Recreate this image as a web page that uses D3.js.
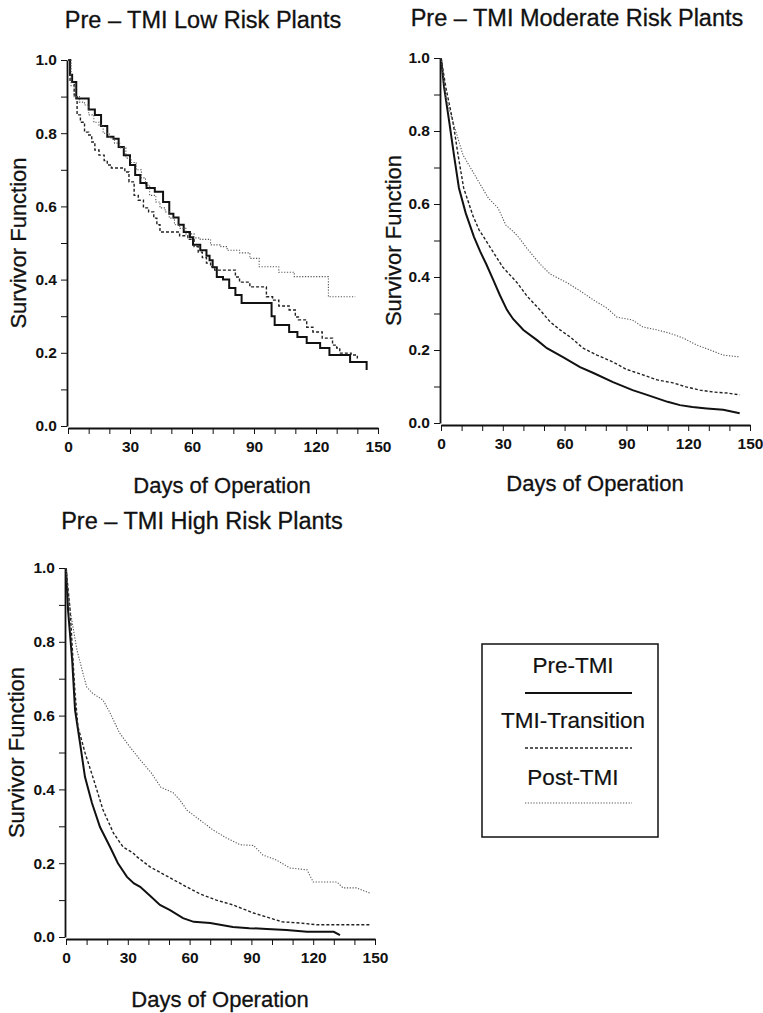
<!DOCTYPE html>
<html><head><meta charset="utf-8">
<script src="https://cdn.jsdelivr.net/npm/d3@7"></script>
<style>
body{margin:0;background:#fff;}
svg{display:block;}
text{font-family:"Liberation Sans",Arial,Helvetica,sans-serif;fill:#111;}
</style></head>
<body>
<svg id="c" width="763" height="1013"></svg>
<script>
// ---- data ----
const seriesNames = ["Pre-TMI", "TMI-Transition", "Post-TMI"];
const panelTitles = ["Pre \u2013 TMI Low Risk Plants", "Pre \u2013 TMI Moderate Risk Plants", "Pre \u2013 TMI High Risk Plants"];
const xTickLabels = [0, 30, 60, 90, 120, 150];
const yTickLabels = [0.0, 0.2, 0.4, 0.6, 0.8, 1.0];

// Low risk [day, survivor]
const lowPre = [[0,1],[1,0.96],[2,0.94],[4,0.895],[10,0.865],[13,0.85],[16,0.82],[19,0.79],[22,0.785],[24.5,0.762],[27,0.74],[30,0.713],[32.5,0.686],[35,0.664],[38,0.65],[42,0.64],[46,0.612],[49,0.58],[51,0.57],[53.5,0.55],[56,0.53],[59,0.516],[60.5,0.495],[64,0.48],[67,0.465],[68.5,0.453],[70,0.434],[72,0.407],[75,0.4],[78,0.377],[81,0.358],[84,0.336],[98.5,0.30],[100,0.276],[107,0.257],[111,0.243],[115.5,0.227],[122,0.213],[126.5,0.194],[136.5,0.175],[144.5,0.153]];
const lowTrans = [[0,1],[1,0.94],[3,0.904],[4.4,0.85],[6,0.83],[8,0.803],[10,0.795],[11.5,0.776],[13,0.754],[15,0.74],[17.5,0.725],[19,0.713],[21,0.705],[27.5,0.694],[29.5,0.667],[32,0.63],[34,0.617],[36.5,0.596],[39,0.585],[41.5,0.568],[43,0.55],[44.5,0.53],[54,0.52],[58,0.51],[61,0.49],[63,0.475],[65,0.46],[67,0.445],[69,0.435],[71,0.426],[81,0.407],[83,0.393],[88,0.38],[96,0.353],[99,0.344],[102,0.328],[107,0.317],[110,0.298],[111.5,0.29],[115.5,0.27],[118.5,0.257],[123,0.24],[128,0.221],[130,0.213],[131.5,0.199],[137,0.194],[140,0.186],[140.5,0.186]];
const lowPost = [[0,1],[1.5,0.93],[3,0.9],[5.5,0.885],[8,0.877],[10,0.85],[12.5,0.83],[15,0.822],[17,0.8],[20,0.787],[22.5,0.773],[25,0.76],[28,0.732],[30.5,0.72],[33,0.70],[35.5,0.678],[37.5,0.658],[39.5,0.63],[42.5,0.612],[44.5,0.596],[47,0.585],[49,0.568],[51.5,0.55],[54,0.54],[57,0.525],[61,0.514],[64,0.51],[69,0.495],[74,0.49],[77,0.48],[83,0.473],[88,0.458],[92.5,0.435],[102,0.42],[109.5,0.408],[126,0.353],[139,0.353]];

// Moderate risk
const modPre = [[0,1],[1.5,0.92],[4,0.825],[6.3,0.734],[8.7,0.644],[12,0.575],[16,0.51],[19,0.47],[22,0.435],[25.3,0.393],[28.6,0.35],[32,0.31],[35,0.285],[40,0.255],[46.6,0.227],[51.4,0.205],[59,0.181],[67.5,0.153],[74,0.137],[83.5,0.112],[93,0.09],[100,0.077],[110,0.058],[116,0.049],[122,0.044],[129,0.04],[137,0.036],[145,0.027]];
const modTrans = [[0,1],[2.4,0.918],[5.8,0.825],[8.3,0.734],[11,0.644],[15.5,0.568],[18.4,0.53],[23.8,0.482],[30,0.427],[37,0.384],[41.7,0.348],[48,0.31],[53,0.277],[57.8,0.255],[62.6,0.236],[69,0.205],[75.7,0.186],[83.5,0.167],[90,0.147],[98,0.132],[105,0.118],[112.6,0.11],[119,0.099],[125.7,0.09],[132,0.085],[139,0.082],[145,0.077]];
const modPost = [[0,1],[2.4,0.89],[5.8,0.825],[10.7,0.734],[15.5,0.688],[18.4,0.66],[23,0.616],[27.7,0.589],[31.5,0.542],[35,0.525],[38,0.507],[41.5,0.48],[48,0.436],[53,0.408],[61,0.385],[67.5,0.362],[74,0.337],[80.5,0.315],[85.4,0.29],[93,0.282],[98,0.263],[105,0.255],[111,0.246],[117.5,0.233],[124,0.214],[130.6,0.2],[137,0.186],[145,0.181]];

// High risk
const highPre = [[0,1],[1,0.886],[3,0.75],[4.4,0.615],[6.8,0.526],[9.2,0.434],[12.6,0.363],[16.5,0.298],[21.4,0.244],[25.2,0.2],[29.6,0.163],[33,0.145],[36,0.136],[40.8,0.112],[45.6,0.087],[50.5,0.073],[56.8,0.051],[62,0.041],[70,0.038],[81,0.027],[89,0.024],[97.5,0.022],[107,0.019],[117,0.014],[130,0.014],[133,0.005]];
const highTrans = [[0,1],[2,0.886],[3.4,0.75],[4.4,0.66],[5.8,0.57],[9.2,0.5],[13,0.434],[18,0.344],[23,0.282],[27.7,0.244],[32.5,0.228],[34.5,0.217],[40.8,0.19],[49,0.165],[57.8,0.138],[65,0.117],[73,0.1],[81,0.087],[91,0.065],[97.5,0.054],[105,0.041],[113.6,0.038],[122,0.033],[130,0.033],[147.5,0.033]];
const highPost = [[0,1],[0.5,0.967],[2,0.886],[3.4,0.84],[5.3,0.778],[7.8,0.724],[10,0.678],[13,0.66],[18,0.642],[21.4,0.607],[26,0.553],[31,0.515],[36,0.48],[41.5,0.444],[46,0.406],[52,0.391],[55.3,0.371],[58.7,0.344],[65,0.317],[71.4,0.29],[78,0.268],[84.5,0.25],[91,0.248],[95.6,0.222],[102,0.209],[108.7,0.187],[117,0.182],[120,0.149],[131.5,0.149],[134.5,0.133],[141,0.133],[147.5,0.119]];

// ---- drawing ----
const svg = d3.select("#c");
const styles = [
  {stroke:"#111", width:2.0, dash:null},
  {stroke:"#222", width:1.4, dash:"3,2"},
  {stroke:"#555", width:1.1, dash:"1.2,1.6"}
];

const panels = [
  {title:panelTitles[0], xr:[68,378], yr:[426,60], series:[lowPre,lowTrans,lowPost], curve:d3.curveStepAfter,
   titleX:203, titleY:28, ylabX:18, xlabY:493, xlabX:222},
  {title:panelTitles[1], xr:[441,750], yr:[423,58], series:[modPre,modTrans,modPost], curve:d3.curveLinear,
   titleX:577, titleY:26, ylabX:393, xlabY:491, xlabX:595},
  {title:panelTitles[2], xr:[66,375], yr:[937,568], series:[highPre,highTrans,highPost], curve:d3.curveLinear,
   titleX:202, titleY:529, ylabX:16, xlabY:1007, xlabX:220}
];

panels.forEach(p => {
  const x = d3.scaleLinear().domain([0,150]).range(p.xr);
  const y = d3.scaleLinear().domain([0,1]).range(p.yr);
  const g = svg.append("g");

  const xAxis = d3.axisBottom(x).tickValues(d3.range(0,151,10))
    .tickFormat(d => xTickLabels.includes(d) ? d : "").tickSize(6).tickSizeOuter(0).tickPadding(7);
  const gx = g.append("g").attr("transform",`translate(0,${y(0)+2})`).call(xAxis);
  gx.select(".domain").attr("stroke","#111").attr("stroke-width",1.8);
  gx.selectAll(".tick line").attr("stroke","#111").attr("stroke-width",1);
  gx.selectAll("text").attr("font-size",15.5).attr("font-weight","bold").style("fill","#111");

  const yAxis = d3.axisLeft(y).tickValues(d3.range(0,11).map(i=>i/10))
    .tickFormat(d => yTickLabels.some(v=>Math.abs(v-d)<1e-6) ? d3.format(".1f")(d) : "").tickSize(6).tickSizeOuter(0).tickPadding(4);
  const gy = g.append("g").attr("transform",`translate(${x(0)-1},0)`).call(yAxis);
  gy.select(".domain").attr("stroke","#111").attr("stroke-width",1.8);
  gy.selectAll(".tick line").attr("stroke","#111").attr("stroke-width",1);
  gy.selectAll("text").attr("font-size",15.5).attr("font-weight","bold").style("fill","#111");

  p.series.forEach((s,i) => {
    const line = d3.line().x(d=>x(d[0])).y(d=>y(d[1])).curve(p.curve);
    const st = styles[i];
    g.append("path").attr("d", line(s)).attr("fill","none")
      .attr("stroke", st.stroke).attr("stroke-width", st.width)
      .attr("stroke-dasharray", st.dash);
  });

  g.append("text").attr("x",p.titleX).attr("y",p.titleY).attr("text-anchor","middle")
    .attr("font-size",23.5).style("stroke","#111").style("stroke-width",0.3).text(p.title);
  g.append("text").attr("transform",`translate(${p.ylabX},${(p.yr[0]+p.yr[1])/2}) rotate(-90)`)
    .attr("dy","0.35em").attr("text-anchor","middle").attr("font-size",22)
    .style("stroke","#111").style("stroke-width",0.3).text("Survivor Function");
  g.append("text").attr("x",p.xlabX).attr("y",p.xlabY).attr("text-anchor","middle")
    .attr("font-size",22).style("stroke","#111").style("stroke-width",0.3).text("Days of Operation");
});

// legend
const lg = svg.append("g");
lg.append("rect").attr("x",482).attr("y",644).attr("width",176).attr("height",193)
  .attr("fill","none").attr("stroke","#111").attr("stroke-width",1.5);
const legendY = [[673,693],[728,748],[785,803]];
seriesNames.forEach((n,i) => {
  lg.append("text").attr("x",573).attr("y",legendY[i][0]).attr("text-anchor","middle")
    .attr("font-size",22.5).style("stroke","#111").style("stroke-width",0.2).text(n);
  const st = styles[i];
  lg.append("line").attr("x1",525).attr("x2",632).attr("y1",legendY[i][1]).attr("y2",legendY[i][1])
    .attr("stroke",st.stroke).attr("stroke-width",st.width).attr("stroke-dasharray",st.dash);
});
</script>
</body></html>
